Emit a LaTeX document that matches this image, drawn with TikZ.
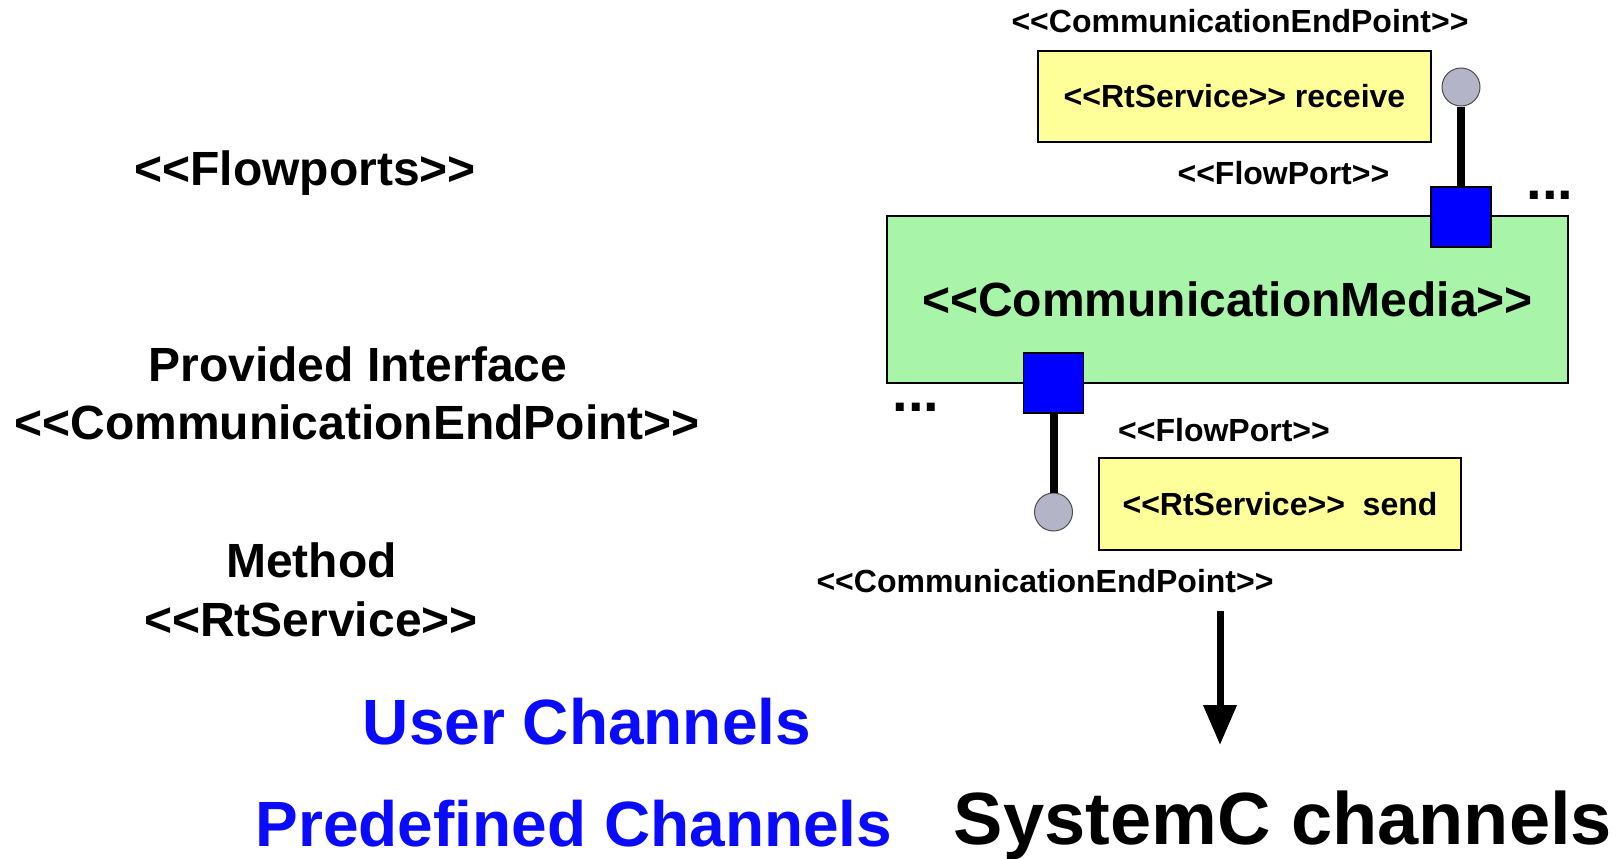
\documentclass[tikz,border=0pt]{standalone}
\usepackage{fontspec}
\setmainfont{Liberation Sans}[Ligatures=TeXOff]
\usetikzlibrary{arrows.meta}
\definecolor{yboxc}{RGB}{255,255,153}
\definecolor{gboxc}{RGB}{168,244,168}
\definecolor{portc}{RGB}{0,0,255}
\definecolor{lolc}{RGB}{180,180,200}
\definecolor{chanc}{RGB}{10,10,255}
\begin{document}
\begin{tikzpicture}[x=1pt,y=-1pt,
  big/.style={anchor=base, inner sep=0pt, font=\bfseries\fontsize{48}{56}\selectfont},
  dots/.style={anchor=base, inner sep=0pt, font=\bfseries\fontsize{56}{60}\selectfont},
  small/.style={anchor=base, inner sep=0pt, font=\bfseries\fontsize{32}{38}\selectfont},
  chan/.style={anchor=base, inner sep=0pt, text=chanc, font=\bfseries\fontsize{64}{72}\selectfont},
  ybox/.style={draw=black, line width=2pt, fill=yboxc, inner sep=0pt, font=\bfseries\fontsize{32}{38}\selectfont},
  gbox/.style={draw=black, line width=2pt, fill=gboxc, inner sep=0pt, font=\bfseries\fontsize{48}{56}\selectfont},
  port/.style={draw=black, line width=1.5pt, fill=portc, minimum size=60pt, inner sep=0pt},
  lol/.style={circle, draw=black!70, line width=1pt, fill=lolc, minimum size=38pt, inner sep=0pt},
  stick/.style={line width=8pt, black}
]
\useasboundingbox (0,0) rectangle (1623,859);

% left labels
\node[big] (flowports) at (305,185) {<<Flowports>>};
\node[big] (provided) at (358,381.6) {Provided Interface};
\node[big] (cepleft) at (357,439.6) {<<CommunicationEndPoint>>};
\node[big] (method) at (311.5,577.3) {Method};
\node[big] (rtsleft) at (311,636) {<<RtService>>};
\node[chan] (user) at (587,744.4) {User Channels};
\node[chan] (predef) at (574,846) {Predefined Channels};

% right diagram
\node[small] (ceptop) at (1240,32.2) {<<CommunicationEndPoint>>};
\node[ybox, minimum width=393pt, minimum height=91pt] (recv) at (1234.5,96.5) {<<RtService>> receive};
\node[small] (fptop) at (1283.4,184.3) {<<FlowPort>>};
\node[dots] (dotstop) at (1550,199) {...};

\node[gbox, minimum width=681pt, minimum height=167pt] (media) at (1227.5,299.5) {<<CommunicationMedia>>};

\node[lol] (c1) at (1461,87) {};
\node[port] (p1) at (1461,217) {};
\draw[stick] (c1) -- (p1);

\node[port] (p2) at (1053.5,383) {};
\node[lol] (c2) at (1053.5,512) {};
\draw[stick] (p2) -- (c2);

\node[dots] (dotsbot) at (916,411) {...};
\node[small] (fpbot) at (1224,441) {<<FlowPort>>};
\node[ybox, minimum width=362pt, minimum height=92pt] (send) at (1280,504) {<<RtService>>\ \ send};
\node[small] (cepbot) at (1045,592) {<<CommunicationEndPoint>>};

\coordinate (a1) at (1220,611);
\coordinate (a2) at (1220,745);
\draw[line width=7pt, -{Triangle[length=40pt 0 0, width=32pt 0 0]}] (a1) -- (a2);

\node[anchor=base, inner sep=0pt, font=\bfseries\fontsize{74}{80}\selectfont] (sysc) at (1283,844) {SystemC channels};
\end{tikzpicture}
\end{document}
